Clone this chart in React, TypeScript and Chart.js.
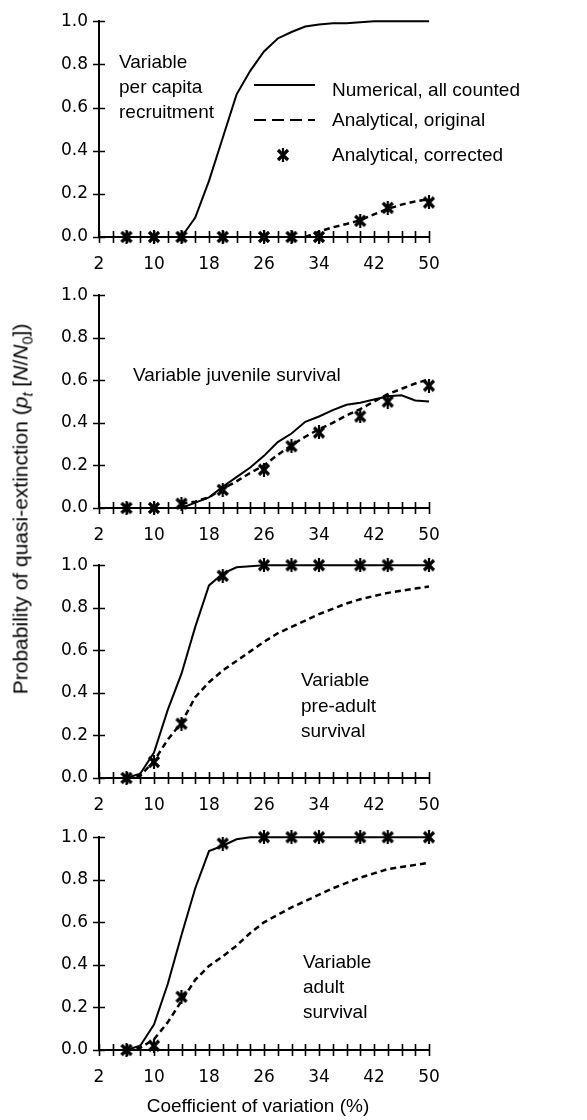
import React, { useEffect, useRef } from 'react';
import { Chart, registerables } from 'chart.js';
Chart.register(...registerables);

// ---------- data ----------
const cv = [2, 4, 6, 8, 10, 12, 14, 16, 18, 20, 22, 24, 26, 28, 30, 32, 34, 36, 38, 40, 42, 44, 46, 48, 50];
const markerCv = [6, 10, 14, 20, 26, 30, 34, 40, 44, 50];
const xTickLabels = [2, 10, 18, 26, 34, 42, 50];
const xMinorTicks = [2, 4, 6, 8, 10, 12, 14, 16, 18, 20, 22, 24, 26, 28, 30, 32, 34, 36, 38, 40, 42, 44, 46, 48, 50];
const yTicks = [0, 0.2, 0.4, 0.6, 0.8, 1.0];

// Panel 1: variable per capita recruitment
const recNumerical = [null, null, null, null, null, null, 0, 0.09, 0.26, 0.46, 0.66, 0.77, 0.86, 0.92, 0.95, 0.975, 0.985, 0.99, 0.99, 0.995, 1, 1, 1, 1, 1];
const recOriginal = [null, null, null, null, null, null, null, null, null, null, null, null, null, null, null, 0, 0.025, 0.045, 0.06, 0.078, 0.105, 0.13, 0.15, 0.165, 0.175];
const recCorrected = [0, 0, 0, 0, 0, 0, 0, 0.075, 0.135, 0.16];

// Panel 2: variable juvenile survival
const juvNumerical = [null, null, null, null, null, null, 0, 0.025, 0.05, 0.1, 0.145, 0.19, 0.245, 0.31, 0.35, 0.405, 0.43, 0.46, 0.485, 0.495, 0.51, 0.525, 0.53, 0.505, 0.5];
const juvOriginal = [null, null, null, null, null, null, 0.02, 0.03, 0.05, 0.09, 0.125, 0.165, 0.2, 0.25, 0.295, 0.335, 0.37, 0.4, 0.435, 0.465, 0.5, 0.535, 0.56, 0.585, 0.605];
const juvCorrected = [0, 0, 0.02, 0.085, 0.18, 0.29, 0.355, 0.43, 0.5, 0.575];

// Panel 3: variable pre-adult survival
const preNumerical = [null, null, 0, 0.02, 0.12, 0.32, 0.49, 0.71, 0.905, 0.96, 0.99, 0.995, 1, 1, 1, 1, 1, 1, 1, 1, 1, 1, 1, 1, 1];
const preOriginal = [null, null, 0, 0.01, 0.08, 0.18, 0.26, 0.38, 0.45, 0.505, 0.55, 0.595, 0.64, 0.68, 0.71, 0.74, 0.77, 0.795, 0.82, 0.84, 0.855, 0.87, 0.88, 0.89, 0.9];
const preCorrected = [0, 0.075, 0.255, 0.95, 1, 1, 1, 1, 1, 1];

// Panel 4: variable adult survival
const adNumerical = [null, null, 0, 0.02, 0.12, 0.31, 0.54, 0.76, 0.935, 0.96, 0.99, 1, 1, 1, 1, 1, 1, 1, 1, 1, 1, 1, 1, 1, 1];
const adOriginal = [null, null, 0, 0.01, 0.05, 0.13, 0.23, 0.33, 0.395, 0.44, 0.49, 0.55, 0.6, 0.635, 0.67, 0.7, 0.73, 0.76, 0.785, 0.81, 0.83, 0.85, 0.86, 0.87, 0.88];
const adCorrected = [0, 0.02, 0.25, 0.97, 1, 1, 1, 1, 1, 1];

const SANS = '"Liberation Sans", Arial, Helvetica, sans-serif';
const TICKF = '"DejaVu Sans", Verdana, sans-serif';

type Txt = { text: string; x: number; y: number };
type PanelDef = {
  numerical: (number | null)[];
  original: (number | null)[];
  corrected: number[];
  canvasTop: number;
  canvasBottom: number;
  areaTop: number;
  areaBottom: number;
  texts: Txt[];
  legend?: boolean;
  xTitle?: boolean;
};

const panels: PanelDef[] = [
  {
    numerical: recNumerical, original: recOriginal, corrected: recCorrected,
    canvasTop: 0, canvasBottom: 280, areaTop: 18, areaBottom: 237,
    texts: [
      { text: 'Variable', x: 119, y: 68 },
      { text: 'per capita', x: 119, y: 93 },
      { text: 'recruitment', x: 119, y: 118 },
    ],
    legend: true,
  },
  {
    numerical: juvNumerical, original: juvOriginal, corrected: juvCorrected,
    canvasTop: 274, canvasBottom: 550, areaTop: 290, areaBottom: 508,
    texts: [{ text: 'Variable juvenile survival', x: 133, y: 381 }],
  },
  {
    numerical: preNumerical, original: preOriginal, corrected: preCorrected,
    canvasTop: 544, canvasBottom: 822, areaTop: 560, areaBottom: 778,
    texts: [
      { text: 'Variable', x: 301, y: 686 },
      { text: 'pre-adult', x: 301, y: 712 },
      { text: 'survival', x: 301, y: 737 },
    ],
  },
  {
    numerical: adNumerical, original: adOriginal, corrected: adCorrected,
    canvasTop: 816, canvasBottom: 1120, areaTop: 832, areaBottom: 1050,
    texts: [
      { text: 'Variable', x: 303, y: 968 },
      { text: 'adult', x: 303, y: 993 },
      { text: 'survival', x: 303, y: 1018 },
    ],
    xTitle: true,
  },
];

function makeMarker(): HTMLCanvasElement {
  const c = document.createElement('canvas');
  c.width = 14;
  c.height = 14;
  const g = c.getContext('2d')!;
  g.strokeStyle = '#000';
  g.lineWidth = 3.2;
  g.beginPath();
  g.moveTo(2, 2); g.lineTo(12, 12);
  g.moveTo(12, 2); g.lineTo(2, 12);
  g.stroke();
  g.lineWidth = 2.2;
  g.beginPath();
  g.moveTo(7, 0); g.lineTo(7, 14);
  g.stroke();
  return c;
}

function Panel({ def }: { def: PanelDef }) {
  const ref = useRef<HTMLCanvasElement>(null);
  useEffect(() => {
    const canvas = ref.current!;
    const padTop = def.areaTop - def.canvasTop;
    const xScaleH = def.canvasBottom - def.areaBottom;
    const off = def.canvasTop;
    const marker = makeMarker();

    const overlay = {
      id: 'overlay',
      beforeDatasetsDraw(chart: any) {
        const ctx = chart.ctx as CanvasRenderingContext2D;
        const xs = chart.scales.x;
        const ys = chart.scales.y;
        const y0 = ys.getPixelForValue(0);
        const x0 = xs.getPixelForValue(2);
        ctx.save();
        ctx.strokeStyle = '#000';
        ctx.lineWidth = 1.6;
        ctx.beginPath();
        for (const v of xMinorTicks) {
          const px = Math.round(xs.getPixelForValue(v)) + 0.5;
          ctx.moveTo(px, y0 - 6);
          ctx.lineTo(px, y0 + 6);
        }
        for (const v of yTicks) {
          const py = Math.round(ys.getPixelForValue(v)) + 0.5;
          ctx.moveTo(x0 - 6, py);
          ctx.lineTo(x0 + 6, py);
        }
        ctx.stroke();
        ctx.restore();
      },
      afterDraw(chart: any) {
        const ctx = chart.ctx as CanvasRenderingContext2D;
        ctx.save();
        ctx.fillStyle = '#000';
        ctx.font = `19px ${SANS}`;
        ctx.textBaseline = 'alphabetic';
        ctx.textAlign = 'left';
        for (const t of def.texts) ctx.fillText(t.text, t.x, t.y - off);
        if (def.legend) {
          ctx.strokeStyle = '#000';
          ctx.lineWidth = 2;
          ctx.beginPath();
          ctx.moveTo(254, 85 - off);
          ctx.lineTo(315, 85 - off);
          ctx.stroke();
          ctx.setLineDash([12, 6]);
          ctx.lineWidth = 2.2;
          ctx.beginPath();
          ctx.moveTo(254, 120 - off);
          ctx.lineTo(315, 120 - off);
          ctx.stroke();
          ctx.setLineDash([]);
          ctx.drawImage(marker, 283 - 7, 155 - 7 - off);
          ctx.fillText('Numerical, all counted', 332, 96 - off);
          ctx.fillText('Analytical, original', 332, 126 - off);
          ctx.fillText('Analytical, corrected', 332, 161 - off);
        }
        if (def.xTitle) {
          ctx.textAlign = 'center';
          ctx.fillText('Coefficient of variation (%)', 258, 1112 - off);
        }
        ctx.restore();
      },
    };

    const chart = new Chart(canvas, {
      type: 'line',
      data: {
        datasets: [
          {
            label: 'Numerical, all counted',
            data: cv.map((x, i) => ({ x, y: def.numerical[i] })) as any,
            borderColor: '#000',
            borderWidth: 2,
            pointRadius: 0,
            tension: 0,
            clip: false as any,
          },
          {
            label: 'Analytical, original',
            data: cv.map((x, i) => ({ x, y: def.original[i] })) as any,
            borderColor: '#000',
            borderWidth: 2.5,
            borderDash: [6, 4],
            pointRadius: 0,
            tension: 0,
            clip: false as any,
          },
          {
            label: 'Analytical, corrected',
            data: markerCv.map((x, i) => ({ x, y: def.corrected[i] })) as any,
            showLine: false,
            pointStyle: marker as any,
            pointRadius: 7,
            borderColor: '#000',
            backgroundColor: '#000',
            clip: false as any,
          },
        ],
      },
      options: {
        responsive: false,
        animation: false,
        events: [],
        layout: { padding: { top: padTop, right: 158, left: 0, bottom: 0 } },
        plugins: { legend: { display: false }, tooltip: { enabled: false } },
        scales: {
          x: {
            type: 'linear',
            min: 2,
            max: 50,
            afterBuildTicks: (s: any) => { s.ticks = xTickLabels.map((v) => ({ value: v })); },
            afterFit: (s: any) => { s.height = xScaleH; },
            grid: { display: false, drawTicks: false },
            border: { display: true, color: '#000', width: 2 },
            ticks: {
              font: { family: TICKF, size: 17 },
              color: '#000',
              padding: 17,
              maxRotation: 0,
              autoSkip: false,
              callback: (v: any) => String(v),
            },
          },
          y: {
            type: 'linear',
            min: 0,
            max: 1,
            afterBuildTicks: (s: any) => { s.ticks = yTicks.map((v) => ({ value: v })); },
            afterFit: (s: any) => { s.width = 99; },
            grid: { display: false, drawTicks: false },
            border: { display: true, color: '#000', width: 2 },
            ticks: {
              font: { family: TICKF, size: 17 },
              color: '#000',
              padding: 11,
              callback: (v: any) => Number(v).toFixed(1),
            },
          },
        },
      },
      plugins: [overlay],
    } as any);
    return () => chart.destroy();
  }, [def]);
  const H = def.canvasBottom - def.canvasTop;
  return (
    <canvas
      ref={ref}
      width={587}
      height={H}
      style={{ position: 'absolute', left: 0, top: def.canvasTop, width: 587, height: H }}
    />
  );
}

export default function App() {
  return (
    <div style={{ position: 'absolute', left: 0, top: 0, width: 587, height: 1120, background: '#fff', overflow: 'hidden' }}>
      {panels.map((p, i) => (
        <Panel key={i} def={p} />
      ))}
      <div
        style={{
          position: 'absolute',
          left: 20,
          top: 509,
          transform: 'translate(-50%, -50%) rotate(-90deg)',
          whiteSpace: 'nowrap',
          font: `21px ${SANS}`,
          lineHeight: 1,
          color: '#000',
        }}
      >
        Probability of quasi-extinction (<i>p</i>
        <span style={{ fontSize: '0.7em', fontStyle: 'italic', position: 'relative', top: '0.35em' }}>t</span>
        {' '}[<i>N</i>/<i>N</i>
        <span style={{ fontSize: '0.7em', position: 'relative', top: '0.35em' }}>0</span>])
      </div>
    </div>
  );
}
